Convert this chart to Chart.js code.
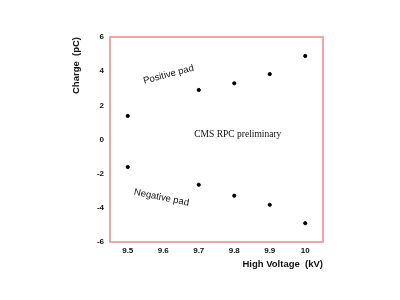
<!DOCTYPE html>
<html>
<head>
<meta charset="utf-8">
<script src="https://cdn.jsdelivr.net/npm/chart.js@4"></script>
<style>
  html, body { margin: 0; padding: 0; background: #fff; }
  #wrap { width: 400px; height: 300px; }
</style>
</head>
<body>
<div id="wrap"><canvas id="chart" width="400" height="300"></canvas></div>
<script>
// values
const voltages = [9.5, 9.7, 9.8, 9.9, 10];
const positivePad = [1.38, 2.9, 3.29, 3.83, 4.89];
const negativePad = [-1.61, -2.65, -3.29, -3.82, -4.9];
const xTicks = [9.5, 9.6, 9.7, 9.8, 9.9, 10];
const yTicks = [-6, -4, -2, 0, 2, 4, 6];

const tickFont = { family: 'Liberation Sans', size: 8, weight: 'bold' };

// frame, axis titles and the free text labels
const decorations = {
    id: 'decorations',
    afterDraw(chart) {
        const { ctx, chartArea: a, scales } = chart;
        ctx.save();
        ctx.strokeStyle = '#f5a3a3';
        ctx.lineWidth = 2;
        ctx.strokeRect(a.left, a.top, a.right - a.left, a.bottom - a.top);

        ctx.fillStyle = '#111';
        ctx.font = 'bold 9.5px "Liberation Sans"';
        ctx.textAlign = 'right';
        ctx.textBaseline = 'middle';
        ctx.fillText('High Voltage  (kV)', a.right, 264);

        ctx.save();
        ctx.translate(76, a.top);
        ctx.rotate(-Math.PI / 2);
        ctx.textAlign = 'right';
        ctx.fillText('Charge  (pC)', 0, 0);
        ctx.restore();

        ctx.font = '9.5px "Liberation Sans"';
        ctx.textAlign = 'center';
        ctx.save();
        ctx.translate(scales.x.getPixelForValue(9.615), scales.y.getPixelForValue(3.8));
        ctx.rotate(-0.26);
        ctx.fillText('Positive pad', 0, 0);
        ctx.restore();

        ctx.save();
        ctx.translate(scales.x.getPixelForValue(9.595), scales.y.getPixelForValue(-3.4));
        ctx.rotate(0.2);
        ctx.fillText('Negative pad', 0, 0);
        ctx.restore();

        ctx.font = '9.5px "Liberation Serif"';
        ctx.fillText('CMS RPC preliminary', scales.x.getPixelForValue(9.81), scales.y.getPixelForValue(0.3));
        ctx.restore();
    }
};

new Chart(document.getElementById('chart'), {
    type: 'scatter',
    data: {
        datasets: [
            {
                label: 'Positive pad',
                data: voltages.map((v, i) => ({ x: v, y: positivePad[i] })),
                backgroundColor: '#000',
                borderColor: '#000',
                pointRadius: 1.6
            },
            {
                label: 'Negative pad',
                data: voltages.map((v, i) => ({ x: v, y: negativePad[i] })),
                backgroundColor: '#000',
                borderColor: '#000',
                pointRadius: 1.6
            }
        ]
    },
    options: {
        responsive: false,
        animation: false,
        layout: { padding: { left: 0, top: 37, right: 77, bottom: 0 } },
        plugins: { legend: { display: false }, tooltip: { enabled: false } },
        scales: {
            x: {
                type: 'linear',
                min: 9.45,
                max: 10.05,
                afterBuildTicks: s => { s.ticks = xTicks.map(v => ({ value: v })); },
                afterFit: s => { s.height = 58; },
                grid: { display: false, drawTicks: false },
                border: { display: false },
                ticks: { color: '#111', font: tickFont, padding: 4, maxRotation: 0, callback: v => String(v) }
            },
            y: {
                type: 'linear',
                min: -6,
                max: 6,
                afterBuildTicks: s => { s.ticks = yTicks.map(v => ({ value: v })); },
                afterFit: s => { s.width = 110; },
                grid: { display: false, drawTicks: false },
                border: { display: false },
                ticks: { color: '#111', font: tickFont, padding: 6, callback: v => String(v) }
            }
        }
    },
    plugins: [decorations]
});
</script>
</body>
</html>
